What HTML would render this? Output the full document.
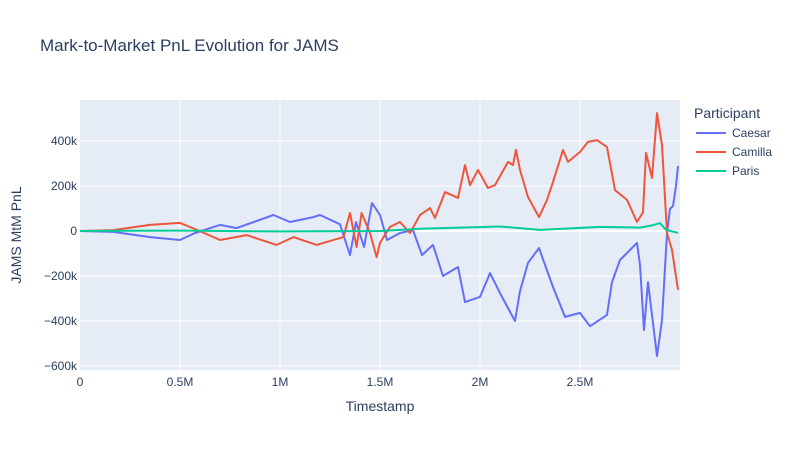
<!DOCTYPE html>
<html><head><meta charset="utf-8"><style>
body{margin:0;background:#fff;font-family:"Liberation Sans",Arial,sans-serif}
svg text{font-family:"Liberation Sans",Arial,sans-serif;fill:#2a3f5f}
</style></head><body>
<svg id="c" width="794" height="450">
<rect width="794" height="450" fill="#fff"/>
<text x="40" y="51" font-size="17">Mark-to-Market PnL Evolution for JAMS</text>
<rect x="80" y="100" width="600" height="270" fill="#e5ecf6"/>
<g id="grid"></g><g id="series"></g><g id="ticks"></g>
<text x="380" y="411" font-size="14" text-anchor="middle">Timestamp</text>
<text transform="translate(21,235) rotate(-90)" font-size="14" text-anchor="middle">JAMS MtM PnL</text>
<g id="legend"></g>
</svg>
<script>
const xTicks=[0,0.5,1,1.5,2,2.5];
const xTickLabels=["0","0.5M","1M","1.5M","2M","2.5M"];
const yTicks=[-600,-400,-200,0,200,400];
const yTickLabels=["−600k","−400k","−200k","0","200k","400k"];
const seriesNames=["Caesar","Camilla","Paris"];
const seriesColors=["#636efa","#ef553b","#00cc96"];
const caesarT=[0,0.167,0.35,0.5,0.575,0.7,0.783,0.967,1.05,1.167,1.2,1.3,1.35,1.38,1.42,1.46,1.5,1.535,1.6,1.665,1.71,1.765,1.815,1.89,1.925,2.0,2.05,2.1,2.175,2.2,2.24,2.295,2.365,2.425,2.5,2.55,2.635,2.66,2.7,2.785,2.8,2.82,2.84,2.885,2.91,2.935,2.95,2.965,2.98,2.99];
const caesarV=[0,-4,-27,-40,-9,27,13,71,40,62,71,30,-107,40,-71,124,71,-40,-9,4,-107,-62,-200,-160,-316,-293,-187,-276,-400,-267,-142,-76,-249,-382,-364,-423,-373,-227,-129,-53,-151,-440,-227,-556,-396,-9,98,111,200,289];
const camillaT=[0,0.167,0.35,0.5,0.575,0.7,0.833,0.983,1.067,1.183,1.317,1.35,1.383,1.408,1.45,1.483,1.5,1.55,1.6,1.65,1.7,1.75,1.775,1.825,1.89,1.925,1.95,1.99,2.04,2.075,2.14,2.165,2.18,2.2,2.24,2.295,2.335,2.365,2.415,2.44,2.5,2.54,2.585,2.635,2.675,2.735,2.785,2.815,2.83,2.86,2.885,2.91,2.935,2.96,2.99];
const camillaV=[0,4,27,36,9,-40,-18,-62,-27,-62,-27,80,-71,80,-9,-116,-53,18,40,-9,71,102,58,173,147,293,204,271,191,204,307,293,360,271,151,62,138,218,360,307,351,396,404,373,182,138,40,84,347,236,524,382,-9,-84,-262];
const parisT=[0,0.5,1,1.5,1.7,1.9,2.1,2.3,2.6,2.8,2.86,2.9,2.93,2.99];
const parisV=[0,2,-2,0,10,15,20,5,18,15,25,35,5,-8];
const X=t=>80+t*200, Y=v=>231-v*0.225;
const NS="http://www.w3.org/2000/svg";
function mk(tag,attrs,parent){const e=document.createElementNS(NS,tag);for(const k in attrs)e.setAttribute(k,attrs[k]);parent.appendChild(e);return e;}
const grid=document.getElementById('grid'),ticks=document.getElementById('ticks');
xTicks.forEach((t,i)=>{
 if(t>0){const l=mk('line',{x1:X(t),x2:X(t),y1:100,y2:370,stroke:'#fff','stroke-width':1},grid);
 
 }
 const tx=mk('text',{x:X(t),y:386,'font-size':12,'text-anchor':'middle'},ticks);tx.textContent=xTickLabels[i];
 
 
});
yTicks.forEach((v,i)=>{
 const l=mk('line',{x1:80,x2:680,y1:Y(v),y2:Y(v),stroke:'#fff','stroke-width':v===0?2:1},grid);
 
 
 const tx=mk('text',{x:77,y:Y(v)+4,'font-size':12,'text-anchor':'end'},ticks);tx.textContent=yTickLabels[i];
 
 
});
const sg=document.getElementById('series');
[[caesarT,caesarV],[camillaT,camillaV],[parisT,parisV]].forEach((s,i)=>{
 const d=s[0].map((t,j)=>(j?'L':'M')+X(t).toFixed(1)+' '+Y(s[1][j]).toFixed(1)).join(' ');
 const p=mk('path',{d:d,fill:'none',stroke:seriesColors[i],'stroke-width':2,'stroke-linejoin':'round'},sg);
 
 
});
const lg=document.getElementById('legend');
const lt=mk('text',{x:694,y:118,'font-size':14},lg);lt.textContent='Participant';


seriesNames.forEach((n,i)=>{
 const g=mk('g',{},lg);
 
 
 const y=133+i*19;
 mk('line',{x1:696,x2:726,y1:y,y2:y,stroke:seriesColors[i],'stroke-width':2},g);
 const t=mk('text',{x:732,y:y+4,'font-size':12},g);t.textContent=n;
});
</script>
</body></html>
